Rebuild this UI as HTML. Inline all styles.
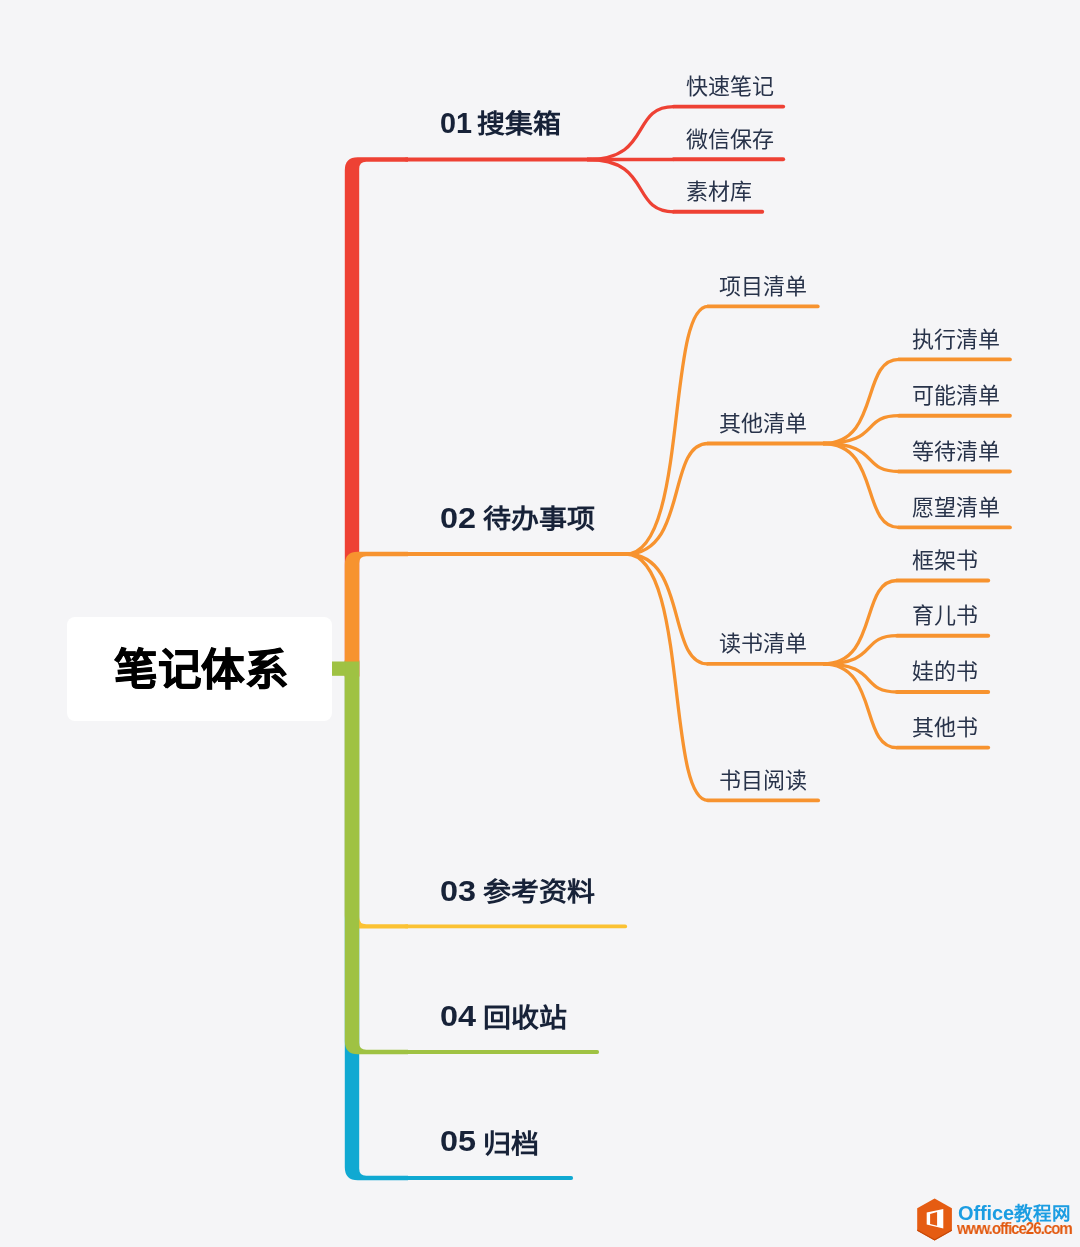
<!DOCTYPE html>
<html lang="zh-CN"><head><meta charset="utf-8"><style>
html,body{margin:0;padding:0}
body{width:1080px;height:1247px;background:#f5f5f7;position:relative;overflow:hidden;font-family:"Liberation Sans",sans-serif}
.t{position:absolute;white-space:nowrap;line-height:1;will-change:transform}
.n{display:inline-block}
.box{position:absolute;left:66.6px;top:617px;width:265.4px;height:104px;background:#fff;border-radius:8px}
</style></head><body>
<div class="box"></div>
<svg style="position:absolute;left:0;top:0" width="1080" height="1247" viewBox="0 0 1080 1247">
<path fill="#10a9d2" d="M344.8 660.5L344.8 1167.2Q344.8 1180.2 357.8 1180.2L408 1180.2L408 1175.8L366.2 1175.8Q359.2 1175.8 359.2 1168.8L359.2 660.5Z"/>
<path fill="#fbc233" d="M344.8 660.5L344.8 915.6Q344.8 928.6 357.8 928.6L408 928.6L408 924.2L366.2 924.2Q359.2 924.2 359.2 917.2L359.2 660.5Z"/>
<path fill="#ee4134" d="M344.8 676.5L344.8 170.3Q344.8 157.3 357.8 157.3L408 157.3L408 161.7L366.2 161.7Q359.2 161.7 359.2 168.7L359.2 676.5Z"/>
<path fill="#f7932f" d="M344.8 676.5L344.8 564.8Q344.8 551.8 357.8 551.8L408 551.8L408 556.2L366.2 556.2Q359.2 556.2 359.2 563.2L359.2 676.5Z"/>
<path fill="#9fc243" d="M344.8 661.5L344.8 1041.2Q344.8 1054.2 357.8 1054.2L408 1054.2L408 1049.8L366.2 1049.8Q359.2 1049.8 359.2 1042.8L359.2 661.5Z"/>
<rect fill="#9fc243" x="332" y="661.5" width="13.8" height="14.3"/>
<path stroke="#ee4134" stroke-width="3.8" stroke-linecap="round" fill="none" d="M406 159.5H599.2"/>
<path stroke="#f7932f" stroke-width="3.8" stroke-linecap="round" fill="none" d="M406 554H630.6"/>
<path stroke="#fbc233" stroke-width="3.8" stroke-linecap="round" fill="none" d="M406 926.4H625.2"/>
<path stroke="#9fc243" stroke-width="3.8" stroke-linecap="round" fill="none" d="M406 1052H597.2"/>
<path stroke="#10a9d2" stroke-width="3.8" stroke-linecap="round" fill="none" d="M406 1178H571.2"/>
<path stroke="#ee4134" stroke-width="3.3" fill="none" d="M587 159.5C653.1 159.5 629.6 106.6 674 106.6"/>
<path stroke="#ee4134" stroke-width="3.9" stroke-linecap="round" fill="none" d="M673.7 106.6H783.2"/>
<path stroke="#ee4134" stroke-width="3.3" fill="none" d="M587 159.5H673.7"/>
<path stroke="#ee4134" stroke-width="3.9" stroke-linecap="round" fill="none" d="M673.7 159.2H783.2"/>
<path stroke="#ee4134" stroke-width="3.3" fill="none" d="M587 159.5C653.1 159.5 629.6 211.8 674 211.8"/>
<path stroke="#ee4134" stroke-width="3.9" stroke-linecap="round" fill="none" d="M673.7 211.8H762.2"/>
<path stroke="#f7932f" stroke-width="3.3" fill="none" d="M626 554C688.3 554 666.2 306.4 708 306.4"/>
<path stroke="#f7932f" stroke-width="3.9" stroke-linecap="round" fill="none" d="M708 306.4H817.7"/>
<path stroke="#f7932f" stroke-width="3.3" fill="none" d="M626 554C688.3 554 666.2 443.5 708 443.5"/>
<path stroke="#f7932f" stroke-width="3.9" stroke-linecap="round" fill="none" d="M708 443.5H829.2"/>
<path stroke="#f7932f" stroke-width="3.3" fill="none" d="M626 554C688.3 554 666.2 663.9 708 663.9"/>
<path stroke="#f7932f" stroke-width="3.9" stroke-linecap="round" fill="none" d="M708 663.9H829.2"/>
<path stroke="#f7932f" stroke-width="3.3" fill="none" d="M626 554C688.3 554 666.2 800.4 708 800.4"/>
<path stroke="#f7932f" stroke-width="3.9" stroke-linecap="round" fill="none" d="M708 800.4H818.1"/>
<path stroke="#f7932f" stroke-width="3.3" fill="none" d="M823 443.5C880.8 443.5 860.2 359.4 899 359.4"/>
<path stroke="#f7932f" stroke-width="3.9" stroke-linecap="round" fill="none" d="M899 359.4H1009.9"/>
<path stroke="#f7932f" stroke-width="3.3" fill="none" d="M823 443.5C880.8 443.5 860.2 415.7 899 415.7"/>
<path stroke="#f7932f" stroke-width="3.9" stroke-linecap="round" fill="none" d="M899 415.7H1009.9"/>
<path stroke="#f7932f" stroke-width="3.3" fill="none" d="M823 443.5C880.8 443.5 860.2 471.5 899 471.5"/>
<path stroke="#f7932f" stroke-width="3.9" stroke-linecap="round" fill="none" d="M899 471.5H1009.9"/>
<path stroke="#f7932f" stroke-width="3.3" fill="none" d="M823 443.5C880.8 443.5 860.2 527.4 899 527.4"/>
<path stroke="#f7932f" stroke-width="3.9" stroke-linecap="round" fill="none" d="M899 527.4H1009.9"/>
<path stroke="#f7932f" stroke-width="3.3" fill="none" d="M823 663.9C879.2 663.9 859.3 580.5 897 580.5"/>
<path stroke="#f7932f" stroke-width="3.9" stroke-linecap="round" fill="none" d="M897 580.5H988.2"/>
<path stroke="#f7932f" stroke-width="3.3" fill="none" d="M823 663.9C879.2 663.9 859.3 635.7 897 635.7"/>
<path stroke="#f7932f" stroke-width="3.9" stroke-linecap="round" fill="none" d="M897 635.7H988.2"/>
<path stroke="#f7932f" stroke-width="3.3" fill="none" d="M823 663.9C879.2 663.9 859.3 692 897 692"/>
<path stroke="#f7932f" stroke-width="3.9" stroke-linecap="round" fill="none" d="M897 692H988.2"/>
<path stroke="#f7932f" stroke-width="3.3" fill="none" d="M823 663.9C879.2 663.9 859.3 747.6 897 747.6"/>
<path stroke="#f7932f" stroke-width="3.9" stroke-linecap="round" fill="none" d="M897 747.6H988.2"/>
</svg>
<div class="t" style="left:441px;top:109.7px;font-size:28px;font-weight:700;color:#172238;"><span class="n" style="width:35.5px"><span class="n" style="font-size:30px;position:relative;top:-2.2px;left:-1px;transform:scaleX(0.96);transform-origin:0 0">01</span></span><span class="n" style="transform:translateY(-1.2px) scaleY(0.93);transform-origin:50% 60%">搜集箱</span></div>
<div class="t" style="left:441px;top:504.9px;font-size:28px;font-weight:700;color:#172238;"><span class="n" style="width:41.5px"><span class="n" style="font-size:30px;position:relative;top:-2.2px;left:-1px;transform:scaleX(1.08);transform-origin:0 0">02</span></span><span class="n" style="transform:translateY(-1.2px) scaleY(0.93);transform-origin:50% 60%">待办事项</span></div>
<div class="t" style="left:441px;top:877.6999999999999px;font-size:28px;font-weight:700;color:#172238;"><span class="n" style="width:41.5px"><span class="n" style="font-size:30px;position:relative;top:-2.2px;left:-1px;transform:scaleX(1.08);transform-origin:0 0">03</span></span><span class="n" style="transform:translateY(-1.2px) scaleY(0.93);transform-origin:50% 60%">参考资料</span></div>
<div class="t" style="left:441px;top:1002.6px;font-size:28px;font-weight:700;color:#172238;"><span class="n" style="width:41.5px"><span class="n" style="font-size:30px;position:relative;top:-2.2px;left:-1px;transform:scaleX(1.08);transform-origin:0 0">04</span></span><span class="n" style="transform:translateY(-0.2px) scaleY(0.93);transform-origin:50% 60%">回收站</span></div>
<div class="t" style="left:441px;top:1128.4px;font-size:28px;font-weight:700;color:#172238;"><span class="n" style="width:41.5px"><span class="n" style="font-size:30px;position:relative;top:-2.2px;left:-1px;transform:scaleX(1.08);transform-origin:0 0">05</span></span><span class="n" style="transform:translateY(0.8px) scaleY(0.93);transform-origin:50% 60%">归档</span></div>
<div class="t" style="left:686px;top:75.89999999999999px;font-size:22px;font-weight:400;color:#28334a;">快速笔记</div>
<div class="t" style="left:686px;top:128.5px;font-size:22px;font-weight:400;color:#28334a;">微信保存</div>
<div class="t" style="left:686px;top:181.10000000000002px;font-size:22px;font-weight:400;color:#28334a;">素材库</div>
<div class="t" style="left:719px;top:275.7px;font-size:22px;font-weight:400;color:#28334a;">项目清单</div>
<div class="t" style="left:719px;top:412.8px;font-size:22px;font-weight:400;color:#28334a;">其他清单</div>
<div class="t" style="left:719px;top:633.1999999999999px;font-size:22px;font-weight:400;color:#28334a;">读书清单</div>
<div class="t" style="left:719px;top:769.6999999999999px;font-size:22px;font-weight:400;color:#28334a;">书目阅读</div>
<div class="t" style="left:911.6px;top:328.7px;font-size:22px;font-weight:400;color:#28334a;">执行清单</div>
<div class="t" style="left:911.6px;top:385.0px;font-size:22px;font-weight:400;color:#28334a;">可能清单</div>
<div class="t" style="left:911.6px;top:440.8px;font-size:22px;font-weight:400;color:#28334a;">等待清单</div>
<div class="t" style="left:911.6px;top:496.7px;font-size:22px;font-weight:400;color:#28334a;">愿望清单</div>
<div class="t" style="left:912px;top:549.8px;font-size:22px;font-weight:400;color:#28334a;">框架书</div>
<div class="t" style="left:912px;top:605.0px;font-size:22px;font-weight:400;color:#28334a;">育儿书</div>
<div class="t" style="left:912px;top:661.3px;font-size:22px;font-weight:400;color:#28334a;">娃的书</div>
<div class="t" style="left:912px;top:716.9px;font-size:22px;font-weight:400;color:#28334a;">其他书</div>
<div class="t" style="left:958px;top:1202.5px;color:#1b9de2;font-weight:700"><span style="font-size:20px;letter-spacing:-0.1px">Office</span><span style="font-size:18.5px">教程网</span></div>
<div class="t" style="left:956.5px;top:1219.5px;color:#e2590f;font-weight:700;font-size:17.3px;letter-spacing:-1.2px;transform:scaleX(0.876);transform-origin:0 0">www.office26.com</div>
<div class="t" style="left:113.5px;top:648.8px;font-size:43px;font-weight:700;color:#000;-webkit-text-stroke:0.8px #000;transform:scaleX(1.014);transform-origin:0 0">笔记体系</div>
<svg style="position:absolute;left:0;top:0" width="1080" height="1247" viewBox="0 0 1080 1247">
<path fill="#e55c12" d="M934.6 1198.4L951.9 1208.2L951.9 1230.8L934.6 1240.5L917.2 1230.8L917.2 1208.2Z"/>
<path fill="#c44808" d="M917.2 1229.5L934.6 1239.2L951.9 1229.5L951.9 1230.8L934.6 1240.5L917.2 1230.8Z"/>
<path fill="#fff" fill-rule="evenodd" d="M926.7 1212.4L943.3 1209L943.3 1228.6L926.7 1224.4Z M930.1 1214L937.1 1212.1L937.1 1225.8L930.1 1224Z"/>
</svg>
</body></html>
